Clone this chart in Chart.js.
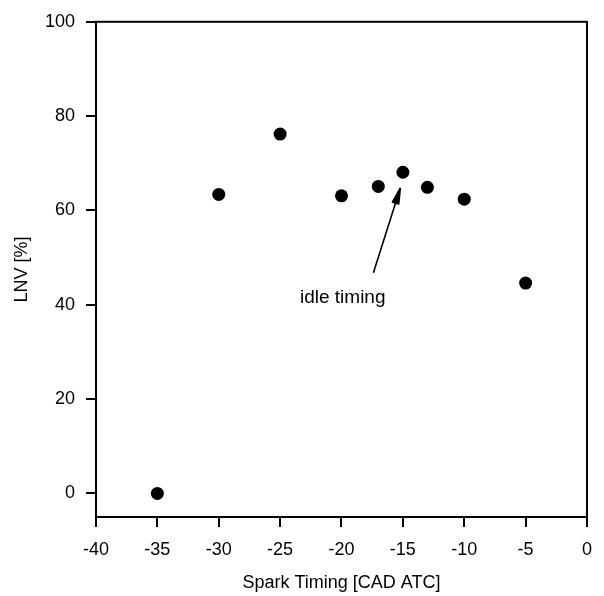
<!DOCTYPE html>
<html>
<head>
<meta charset="utf-8">
<script src="https://cdn.jsdelivr.net/npm/chart.js@4.4.1/dist/chart.umd.min.js"></script>
<style>
  html, body { margin: 0; padding: 0; background: #fff; }
  #wrap { width: 604px; height: 596px; }
</style>
</head>
<body>
<div id="wrap"><canvas id="lnv" width="604" height="596"></canvas></div>
<script>
// spark timing (CAD ATC) and LNV (%)
var sparkTiming = [-35, -30, -25, -20, -17, -15, -13, -10, -5];
var lnvValues = [0, 63.4, 76.2, 63.1, 65.1, 68.1, 64.9, 62.4, 44.6];
var xTicks = [-40, -35, -30, -25, -20, -15, -10, -5, 0];
var yTicks = [0, 20, 40, 60, 80, 100];

// annotation: label and arrow from label to the idle timing point
var noteText = "idle timing";
var notePos = [-19.9, 41.4];
var arrowFrom = [-17.4, 46.8];
var arrowTo = [-15.2, 64.8];

var font = "'Liberation Sans', Arial, Helvetica, sans-serif";

var frameAndNote = {
    id: "frameAndNote",
    afterDatasetsDraw: function (chart) {
        var c = chart.ctx, a = chart.chartArea;
        var xs = chart.scales.x, ys = chart.scales.y;
        c.save();
        c.strokeStyle = "#000";
        c.lineWidth = 2;
        c.strokeRect(a.left, a.top, a.right - a.left, a.bottom - a.top);

        var x1 = xs.getPixelForValue(arrowFrom[0]), y1 = ys.getPixelForValue(arrowFrom[1]);
        var x2 = xs.getPixelForValue(arrowTo[0]), y2 = ys.getPixelForValue(arrowTo[1]);
        c.lineWidth = 1.6;
        c.beginPath();
        c.moveTo(x1, y1);
        c.lineTo(x2, y2);
        var ang = Math.atan2(y1 - y2, x1 - x2);
        var len = 17;
        [-0.2, -0.1, 0.1, 0.2].forEach(function (d) {
            c.moveTo(x2, y2);
            c.lineTo(x2 + len * Math.cos(ang + d), y2 + len * Math.sin(ang + d));
        });
        c.stroke();

        c.fillStyle = "#000";
        c.font = "19px " + font;
        c.textAlign = "center";
        c.textBaseline = "middle";
        c.fillText(noteText, xs.getPixelForValue(notePos[0]), ys.getPixelForValue(notePos[1]));
        c.restore();
    }
};

var points = sparkTiming.map(function (x, i) { return { x: x, y: lnvValues[i] }; });

new Chart(document.getElementById("lnv"), {
    type: "scatter",
    data: {
        datasets: [{
            label: "LNV",
            data: points,
            backgroundColor: "#000",
            borderColor: "#000",
            borderWidth: 0,
            pointRadius: 6.5
        }]
    },
    options: {
        responsive: false,
        animation: false,
        layout: { padding: { top: 17, right: 9, left: 0, bottom: 0 } },
        plugins: { legend: { display: false }, tooltip: { enabled: false } },
        scales: {
            x: {
                type: "linear",
                min: -40,
                max: 0,
                afterBuildTicks: function (axis) {
                    axis.ticks = xTicks.map(function (v) { return { value: v }; });
                },
                afterFit: function (axis) { axis.height = 79; },
                grid: { drawOnChartArea: false, drawTicks: true, tickLength: 10, color: "#000", lineWidth: 2 },
                border: { display: true, color: "#000", width: 2 },
                ticks: { color: "#000", font: { family: font, size: 18 }, padding: 12, maxRotation: 0 },
                title: { display: true, text: "Spark Timing [CAD ATC]", color: "#000",
                         font: { family: font, size: 18 }, padding: { top: 0, bottom: 2 } }
            },
            y: {
                type: "linear",
                min: -5,
                max: 100,
                afterBuildTicks: function (axis) {
                    axis.ticks = yTicks.map(function (v) { return { value: v }; });
                },
                afterFit: function (axis) { axis.width = 96; },
                grid: { drawOnChartArea: false, drawTicks: true, tickLength: 10, color: "#000", lineWidth: 2 },
                border: { display: true, color: "#000", width: 2 },
                ticks: { color: "#000", font: { family: font, size: 18 }, padding: 11 },
                title: { display: true, text: "LNV [%]", color: "#000",
                         font: { family: font, size: 18 }, padding: { top: 11, bottom: 0 } }
            }
        }
    },
    plugins: [frameAndNote]
});
</script>
</body>
</html>
